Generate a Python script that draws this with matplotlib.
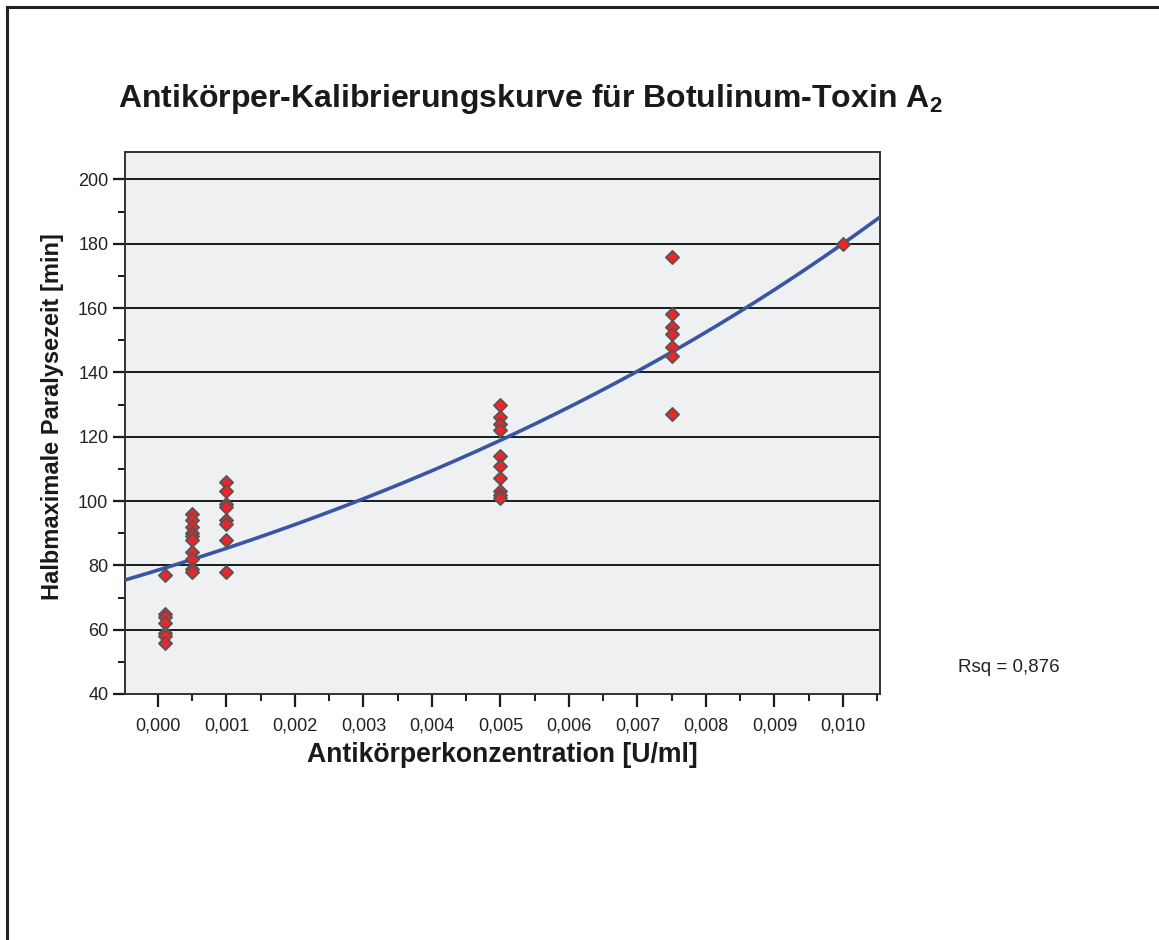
import numpy as np
import matplotlib
matplotlib.use('Agg')
import matplotlib.pyplot as plt
from matplotlib.lines import Line2D
from matplotlib.ticker import MultipleLocator, FuncFormatter

plt.rcParams['font.family'] = ['Liberation Sans', 'DejaVu Sans']
plt.rcParams['mathtext.fontset'] = 'custom'
plt.rcParams['mathtext.bf'] = 'Liberation Sans:bold'
plt.rcParams['mathtext.rm'] = 'Liberation Sans'

# Messwerte: Antikörperkonzentration [U/ml] und halbmaximale Paralysezeit [min]
konz_0001 = [77, 65, 64, 62, 59, 58, 56]
konz_0005 = [96, 94, 92, 90, 89, 88, 84, 82, 79, 78]
konz_001 = [106, 103, 99, 98, 94, 93, 88, 78]
konz_005 = [130, 126, 124, 122, 114, 111, 107, 103, 102, 101]
konz_0075 = [176, 158, 154, 152, 148, 145, 127]
konz_010 = [180]

konzentrationen = [0.0001, 0.0005, 0.001, 0.005, 0.0075, 0.010]
zeiten = [konz_0001, konz_0005, konz_001, konz_005, konz_0075, konz_010]

# exponentielle Anpassung y = a * exp(b * x), Koeffizienten
fit_a = 78.5
fit_b = 83.0

x = np.concatenate([[k] * len(z) for k, z in zip(konzentrationen, zeiten)])
y = np.concatenate(zeiten).astype(float)

fig = plt.figure(figsize=(11.59, 9.40), dpi=100)
ax = fig.add_axes([125 / 1159, 1 - 694 / 940, 755 / 1159, 542 / 940])
ax.set_facecolor('#eff0f2')

xmin, xmax = -0.00048, 0.01054
ax.set_xlim(xmin, xmax)
ax.set_ylim(40, 208.5)

for yy in range(60, 201, 20):
    ax.axhline(yy, color='#1a1a1a', linewidth=1.4, zorder=1)

xs = np.linspace(xmin, xmax, 300)
ax.plot(xs, fit_a * np.exp(fit_b * xs), color='#3a55a4', linewidth=2.6, zorder=3)

ax.scatter(x, y, marker='D', s=46, facecolor='#e8262b', edgecolor='#555555',
           linewidth=1.2, zorder=4)

ax.xaxis.set_major_locator(MultipleLocator(0.001))
ax.xaxis.set_minor_locator(MultipleLocator(0.0005))
ax.yaxis.set_major_locator(MultipleLocator(20))
ax.yaxis.set_minor_locator(MultipleLocator(10))
ax.xaxis.set_major_formatter(FuncFormatter(lambda v, p: ('%.3f' % abs(v)).replace('.', ',')))
ax.tick_params(axis='both', which='major', length=9, width=1.6, color='#1a1a1a',
               labelsize=13, labelcolor='#222222', direction='out')
ax.tick_params(axis='both', which='minor', length=5, width=1.4, color='#1a1a1a', direction='out')
ax.tick_params(axis='x', which='major', pad=8)
ax.tick_params(axis='y', which='major', pad=3)

for s in ax.spines.values():
    s.set_color('#333333')
    s.set_linewidth(1.4)

ax.set_xlabel('Antikörperkonzentration [U/ml]', fontsize=19.2, fontweight='bold',
              color='#1a1a1a', labelpad=5)
ax.set_ylabel('Halbmaximale Paralysezeit [min]', fontsize=17, fontweight='bold',
              color='#1a1a1a')
ax.yaxis.set_label_coords(-0.081, 0.511)

fig.text(118 / 1159, 1 - 107 / 940, r'Antikörper-Kalibrierungskurve für Botulinum-Toxin A$\mathbf{_2}$',
         fontsize=23, fontweight='bold', color='#1a1a1a', ha='left', va='baseline')
fig.text(958 / 1159, 1 - 672 / 940, 'Rsq = 0,876', fontsize=13.5, color='#222222',
         ha='left', va='baseline')

# Rahmen oben und links
fig.add_artist(Line2D([7 / 1159, 1], [1 - 7 / 940, 1 - 7 / 940], color='#222222', linewidth=2.2))
fig.add_artist(Line2D([7 / 1159, 7 / 1159], [0, 1 - 7 / 940], color='#222222', linewidth=2.2))

fig.savefig('out.png', dpi=100)
